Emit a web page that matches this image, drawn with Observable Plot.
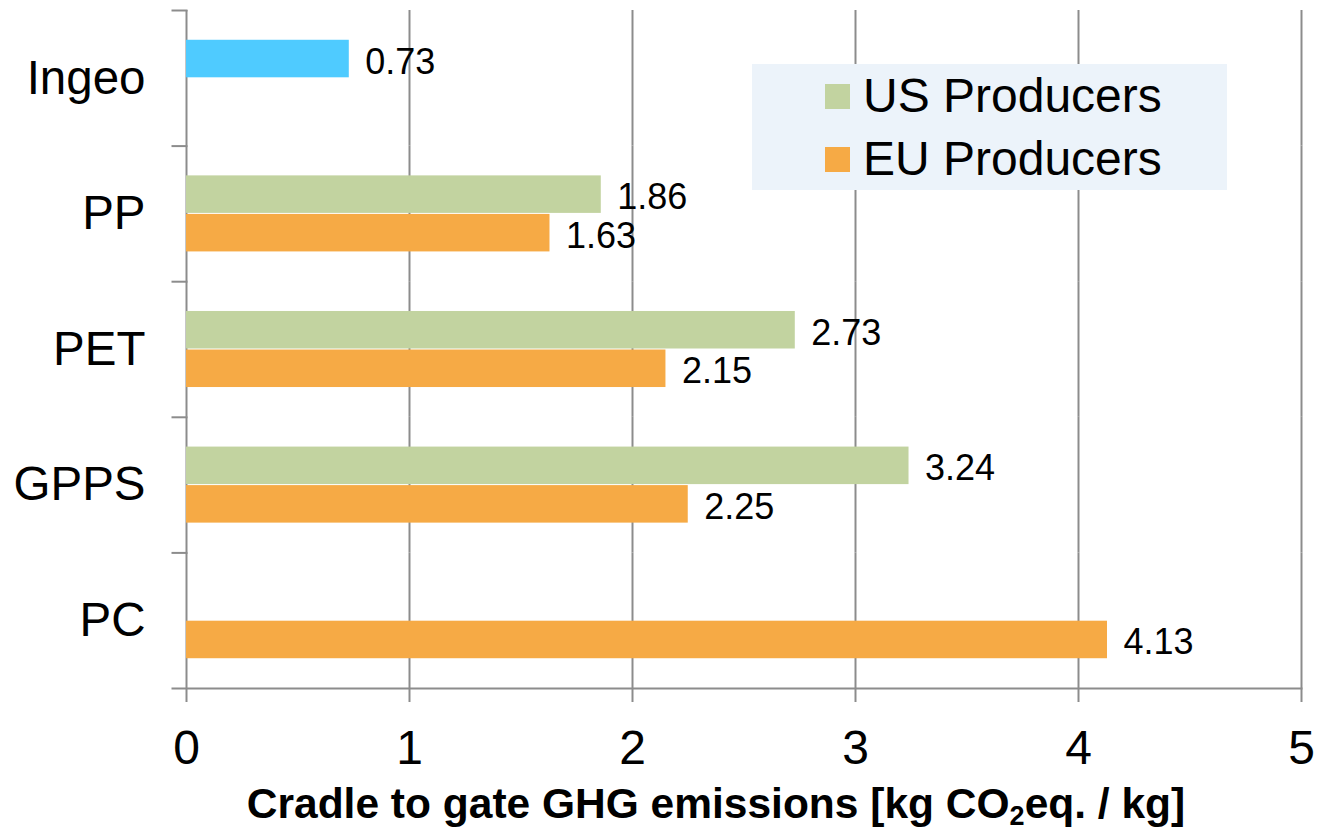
<!DOCTYPE html>
<html>
<head>
<meta charset="utf-8">
<script src="https://cdn.jsdelivr.net/npm/d3@7"></script>
<script src="https://cdn.jsdelivr.net/npm/@observablehq/plot@0.6"></script>
<style>
  html, body { margin: 0; padding: 0; background: #fff; overflow: hidden; }
  #wrap { position: relative; width: 1317px; height: 830px; font-family: "Liberation Sans", Arial, sans-serif; }
  #chart { position: absolute; left: 0; top: 0; }
  #legend { position: absolute; left: 752px; top: 64px; width: 475px; height: 126px; background: #ecf3fa; }
  .item { position: absolute; left: 73px; height: 50px; }
  .sw { position: absolute; left: 0; top: 0; width: 25px; height: 25px; }
  .lab { position: absolute; left: 38px; top: -18px; font-size: 48px; line-height: 60px; white-space: nowrap; color: #000; }
  #title { position: absolute; left: 716px; top: 779px; transform: translateX(-50%); white-space: nowrap; font-weight: bold; font-size: 42.5px; line-height: 50px; color: #000; }
  #title sub { font-size: 27px; vertical-align: -7px; line-height: 0; }
</style>
</head>
<body>
<div id="wrap">
  <div id="chart"></div>
  <div id="legend"></div>
  <div id="title">Cradle to gate GHG emissions [kg CO<sub>2</sub>eq. / kg]</div>
</div>
<script>
const categories = ["Ingeo", "PP", "PET", "GPPS", "PC"];
const usValues = [null, 1.86, 2.73, 3.24, null];
const euValues = [null, 1.63, 2.15, 2.25, 4.13];
const ingeoValues = [0.73, null, null, null, null];
const seriesNames = ["Ingeo", "US Producers", "EU Producers"];
const seriesColors = ["#4fcbff", "#c2d3a0", "#f6aa45"];
const slots = ["US Producers", "EU Producers"];
const xTicks = [0, 1, 2, 3, 4, 5];

const rows = [];
categories.forEach((c, i) => {
  if (ingeoValues[i] != null) rows.push({cat: c, slot: "US Producers", series: "Ingeo", value: ingeoValues[i]});
  if (usValues[i] != null) rows.push({cat: c, slot: "US Producers", series: "US Producers", value: usValues[i]});
  if (euValues[i] != null) rows.push({cat: c, slot: "EU Producers", series: "EU Producers", value: euValues[i]});
});

const W = 1317, mL = 186, mR = 16;
const grey = "#8c8c8c";

const chart = Plot.plot({
  width: W,
  height: 778,
  marginLeft: mL,
  marginRight: mR,
  marginTop: 10,
  marginBottom: 90,
  style: {fontFamily: '"Liberation Sans", Arial, sans-serif', color: "#000", background: "transparent", overflow: "visible"},
  x: {domain: [0, 5], axis: null},
  y: {domain: slots, paddingInner: 0, paddingOuter: 0.76, round: false, axis: null},
  fy: {domain: categories, padding: 0, round: false, axis: null},
  color: {domain: seriesNames, range: seriesColors},
  marks: [
    Plot.gridX({ticks: [1, 2, 3, 4, 5], stroke: grey, strokeOpacity: 1, strokeWidth: 2}),
    Plot.ruleX([0], {stroke: grey, strokeWidth: 2}),
    Plot.frame({anchor: "top", stroke: grey, strokeWidth: 2, insetLeft: -14, insetRight: W - mL - mR}),
    Plot.frame({anchor: "bottom", facet: "super", stroke: grey, strokeWidth: 2, insetLeft: -14}),
    Plot.barX(rows, {x: "value", y: "slot", fy: "cat", fill: "series", insetTop: 0.5, insetBottom: 0.5}),
    Plot.text(rows, {x: "value", y: "slot", fy: "cat", text: d => d.value.toFixed(2), dx: 16, dy: 3, textAnchor: "start", fontSize: 36, fill: "#000"}),
    Plot.axisFy({anchor: "left", tickSize: 0, tickPadding: 41, fontSize: 47.5, label: null, fill: "#000"}),
    Plot.axisX({ticks: xTicks, tickFormat: d => String(d), tickSize: 14, tickPadding: 27, fontSize: 48, label: null, stroke: grey, strokeWidth: 2, fill: "#000"})
  ]
});
document.getElementById("chart").appendChild(chart);

const legend = document.getElementById("legend");
slots.forEach((s, i) => {
  const item = document.createElement("div");
  item.className = "item";
  item.style.top = (20 + i * 63) + "px";
  const sw = document.createElement("div");
  sw.className = "sw";
  sw.style.background = seriesColors[seriesNames.indexOf(s)];
  const lab = document.createElement("div");
  lab.className = "lab";
  lab.textContent = s;
  item.appendChild(sw);
  item.appendChild(lab);
  legend.appendChild(item);
});
</script>
</body>
</html>
